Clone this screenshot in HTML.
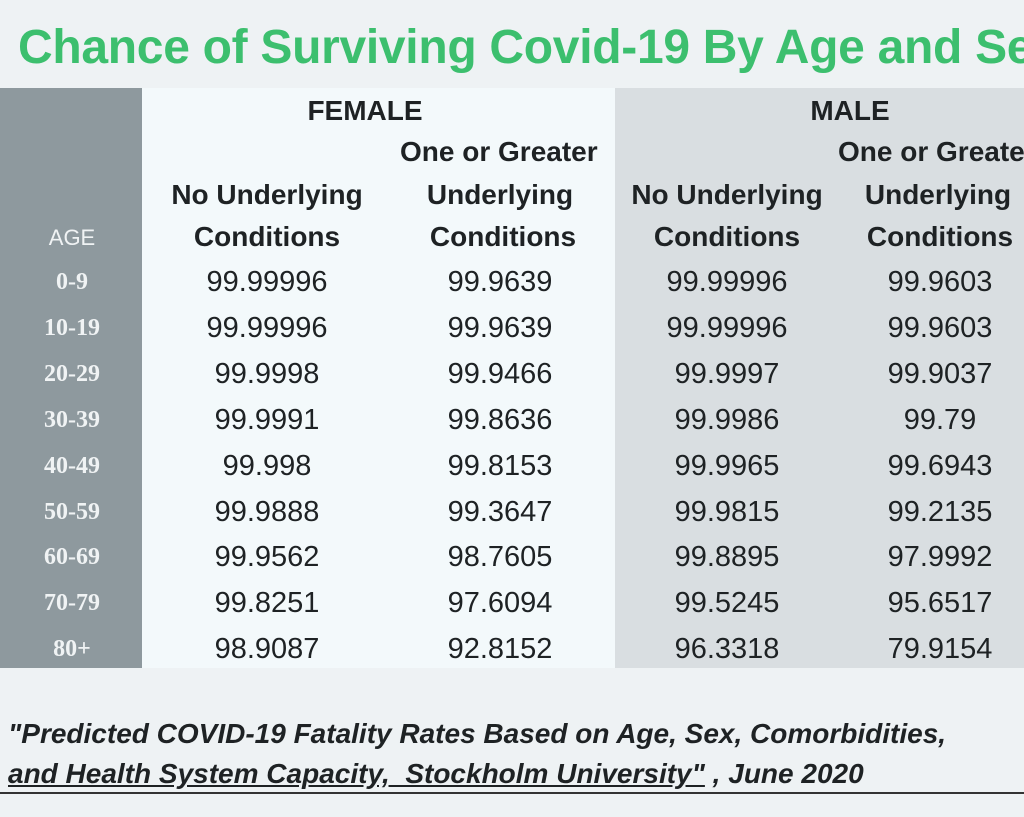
<!DOCTYPE html>
<html><head><meta charset="utf-8"><style>
body{margin:0;width:1024px;height:817px;background:#eef2f4;position:relative;overflow:hidden;font-family:"Liberation Sans Narrow","Liberation Sans",sans-serif;}
.a{position:absolute;white-space:nowrap;}
.c{transform:translateX(-50%);}
#title{left:18px;top:20px;font-size:48px;font-weight:bold;color:#3cbf6e;letter-spacing:-0.3px;}
.h{font-size:28px;font-weight:bold;color:#1e2224;}
.v{font-size:29px;color:#1e2224;}
.age{font-family:"Liberation Serif",serif;font-weight:bold;font-size:24px;color:#f0f3f4;}
.f{left:8px;font-size:28px;font-weight:bold;font-style:italic;color:#1e2224;}
</style></head><body>
<div class="a" id="title">Chance of Surviving Covid-19 By Age and Sex</div>
<div class="a" style="left:0;top:88px;width:142px;height:580px;background:#8e999e"></div>
<div class="a" style="left:142px;top:88px;width:473px;height:580px;background:#f3f9fb"></div>
<div class="a" style="left:615px;top:88px;width:409px;height:580px;background:#d9dee1"></div>
<div class="a h c" style="left:365px;top:95px">FEMALE</div>
<div class="a h c" style="left:850px;top:95px">MALE</div>
<div class="a h" style="left:400px;top:136px">One or Greater</div>
<div class="a h" style="left:838px;top:136px">One or Greater</div>
<div class="a h c" style="left:267px;top:179px">No Underlying</div>
<div class="a h c" style="left:500px;top:179px">Underlying</div>
<div class="a h c" style="left:727px;top:179px">No Underlying</div>
<div class="a h c" style="left:938px;top:179px">Underlying</div>
<div class="a h c" style="left:267px;top:221px">Conditions</div>
<div class="a h c" style="left:503px;top:221px">Conditions</div>
<div class="a h c" style="left:727px;top:221px">Conditions</div>
<div class="a h c" style="left:940px;top:221px">Conditions</div>
<div class="a c" style="left:72px;top:225px;font-size:22px;color:#f0f3f4">AGE</div>
<div id="rows"></div>
<div class="a f" style="top:718px">"Predicted COVID-19 Fatality Rates Based on Age, Sex, Comorbidities,</div>
<div class="a f" style="top:758px"><span style="text-decoration:underline">and Health System Capacity,&nbsp; Stockholm University"</span> , June 2020</div>
<div class="a" style="left:0;top:792px;width:1024px;height:2px;background:#333"></div>
<script>
var d=[["0-9","99.99996","99.9639","99.99996","99.9603"],["10-19","99.99996","99.9639","99.99996","99.9603"],["20-29","99.9998","99.9466","99.9997","99.9037"],["30-39","99.9991","99.8636","99.9986","99.79"],["40-49","99.998","99.8153","99.9965","99.6943"],["50-59","99.9888","99.3647","99.9815","99.2135"],["60-69","99.9562","98.7605","99.8895","97.9992"],["70-79","99.8251","97.6094","99.5245","95.6517"],["80+","98.9087","92.8152","96.3318","79.9154"]];
var xs=[72,267,500,727,940],h="";
d.forEach(function(r,i){var y=269+i*45.9;r.forEach(function(t,j){h+='<div class="a c '+(j?'v':'age')+'" style="left:'+xs[j]+'px;top:'+(j?y-3:y)+'px">'+t+'</div>';});});
document.getElementById('rows').innerHTML=h;
</script>
</body></html>
